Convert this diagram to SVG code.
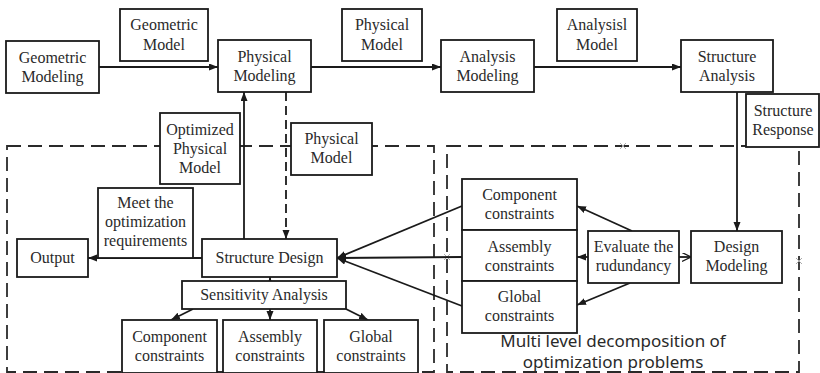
<svg xmlns="http://www.w3.org/2000/svg" width="820" height="373" viewBox="0 0 820 373">
<defs>
<marker id="ah" markerUnits="userSpaceOnUse" markerWidth="10" markerHeight="8" refX="9" refY="3.5" orient="auto"><path d="M0,0 L9,3.5 L0,7 z" fill="#1a1a1a"/></marker>
<marker id="oh" markerUnits="userSpaceOnUse" markerWidth="10" markerHeight="10" refX="9" refY="4.5" orient="auto"><path d="M0,0 L9,4.5 L0,9" fill="none" stroke="#1a1a1a" stroke-width="1.3"/></marker>
<style>
.box{fill:#fff;stroke:#1a1a1a;stroke-width:1.8}
.t{font-family:"Liberation Serif","Times New Roman",serif;font-size:16px;fill:#2a2a2a;text-anchor:middle}
.s{font-family:"Noto Sans","Liberation Sans",sans-serif;font-size:17px;fill:#2a2a2a;text-anchor:middle}
.ln{stroke:#1a1a1a;stroke-width:1.8;fill:none}
.dash{stroke:#2a2a2a;stroke-width:1.8;fill:none;stroke-dasharray:14 7}
.x{stroke:#aaa;stroke-width:1}
</style>
</defs>
<rect width="820" height="373" fill="#fff"/>
<g id="regions">
<rect class="dash" x="7" y="146" width="427" height="226"/>
<rect class="dash" x="447" y="146" width="352" height="226"/>
<path class="x" d="M620,143 l6,6 M626,143 l-6,6 M444,254 l6,6 M450,254 l-6,6 M796,258 l6,6 M802,258 l-6,6"/>
</g>
<g id="connectors">
<line class="ln" x1="99" y1="67" x2="218" y2="67" marker-end="url(#ah)"/>
<line class="ln" x1="311" y1="67" x2="441" y2="67" marker-end="url(#ah)"/>
<line class="ln" x1="534" y1="67" x2="681" y2="67" marker-end="url(#ah)"/>
<line class="ln" x1="737" y1="92" x2="737" y2="231" marker-end="url(#ah)"/>
<line class="ln" x1="244" y1="239" x2="244" y2="92" marker-end="url(#ah)"/>
<line class="ln" x1="286" y1="92" x2="286" y2="239" stroke-dasharray="9 5" marker-end="url(#ah)"/>
<line class="ln" x1="202" y1="258" x2="88" y2="258" marker-end="url(#ah)"/>
<line class="ln" x1="270" y1="281" x2="270" y2="277" marker-end="url(#ah)"/>
<line class="ln" x1="193" y1="309" x2="171" y2="320" marker-end="url(#ah)"/>
<line class="ln" x1="270" y1="309" x2="270" y2="320" marker-end="url(#ah)"/>
<line class="ln" x1="346" y1="309" x2="368" y2="320" marker-end="url(#ah)"/>
<line class="ln" x1="462" y1="206" x2="337" y2="258" marker-end="url(#ah)"/>
<line class="ln" x1="462" y1="257" x2="337" y2="258" marker-end="url(#ah)"/>
<line class="ln" x1="462" y1="306" x2="337" y2="258" marker-end="url(#ah)"/>
<line class="ln" x1="632" y1="231" x2="577" y2="206" marker-end="url(#ah)"/>
<line class="ln" x1="588" y1="257" x2="577" y2="257" marker-end="url(#ah)"/>
<line class="ln" x1="630" y1="283" x2="577" y2="305" marker-end="url(#ah)"/>
<line class="ln" x1="679" y1="257" x2="691" y2="257" marker-end="url(#oh)"/>
</g>
<g id="geometric-modeling"><rect class="box" x="6" y="41" width="93" height="52"/><text class="t" x="52.5" y="63">Geometric</text><text class="t" x="52.5" y="82">Modeling</text></g>
<g id="geometric-model"><rect class="box" x="120" y="9" width="88" height="52"/><text class="t" x="164" y="30">Geometric</text><text class="t" x="164" y="50">Model</text></g>
<g id="physical-modeling"><rect class="box" x="218" y="40" width="93" height="52"/><text class="t" x="264.5" y="62">Physical</text><text class="t" x="264.5" y="81">Modeling</text></g>
<g id="physical-model-top"><rect class="box" x="342" y="9" width="80" height="52"/><text class="t" x="382" y="30">Physical</text><text class="t" x="382" y="50">Model</text></g>
<g id="analysis-modeling"><rect class="box" x="441" y="40" width="93" height="52"/><text class="t" x="487.5" y="62">Analysis</text><text class="t" x="487.5" y="81">Modeling</text></g>
<g id="analysis-model"><rect class="box" x="557" y="9" width="80" height="52"/><text class="t" x="597" y="30">Analysisl</text><text class="t" x="597" y="50">Model</text></g>
<g id="structure-analysis"><rect class="box" x="681" y="40" width="92" height="52"/><text class="t" x="727" y="62">Structure</text><text class="t" x="727" y="81">Analysis</text></g>
<g id="structure-response"><rect class="box" x="746" y="94" width="73" height="53"/><text class="t" x="783" y="116">Structure</text><text class="t" x="783" y="135">Response</text></g>
<g id="optimized-physical-model"><rect class="box" x="160" y="113" width="80" height="71"/><text class="t" x="200" y="135">Optimized</text><text class="t" x="200" y="154">Physical</text><text class="t" x="200" y="173">Model</text></g>
<g id="physical-model-mid"><rect class="box" x="291" y="123" width="81" height="52"/><text class="t" x="331.5" y="144">Physical</text><text class="t" x="331.5" y="163">Model</text></g>
<g id="meet-requirements"><rect class="box" x="98" y="188" width="95" height="70"/><text class="t" x="145.5" y="208">Meet the</text><text class="t" x="145.5" y="227">optimization</text><text class="t" x="145.5" y="246">requirements</text></g>
<g id="output"><rect class="box" x="17" y="239" width="71" height="38"/><text class="t" x="52.5" y="263">Output</text></g>
<g id="structure-design"><rect class="box" x="202" y="239" width="135" height="38"/><text class="t" x="269.5" y="263">Structure Design</text></g>
<g id="sensitivity-analysis"><rect class="box" x="182" y="281" width="164" height="28"/><text class="t" x="264" y="300">Sensitivity Analysis</text></g>
<g id="component-constraints-b"><rect class="box" x="122" y="320" width="95" height="53"/><text class="t" x="169.5" y="342">Component</text><text class="t" x="169.5" y="361">constraints</text></g>
<g id="assembly-constraints-b"><rect class="box" x="223" y="320" width="94" height="53"/><text class="t" x="270" y="342">Assembly</text><text class="t" x="270" y="361">constraints</text></g>
<g id="global-constraints-b"><rect class="box" x="324" y="320" width="94" height="53"/><text class="t" x="371" y="342">Global</text><text class="t" x="371" y="361">constraints</text></g>
<g id="component-constraints-r"><rect class="box" x="462" y="179" width="115" height="51"/><text class="t" x="519.5" y="200">Component</text><text class="t" x="519.5" y="219">constraints</text></g>
<g id="assembly-constraints-r"><rect class="box" x="462" y="230" width="115" height="51"/><text class="t" x="519.5" y="252">Assembly</text><text class="t" x="519.5" y="271">constraints</text></g>
<g id="global-constraints-r"><rect class="box" x="462" y="281" width="115" height="52"/><text class="t" x="519.5" y="302">Global</text><text class="t" x="519.5" y="321">constraints</text></g>
<g id="evaluate-redundancy"><rect class="box" x="588" y="231" width="91" height="52"/><text class="t" x="633.5" y="252">Evaluate the</text><text class="t" x="633.5" y="271">rudundancy</text></g>
<g id="design-modeling"><rect class="box" x="691" y="231" width="91" height="52"/><text class="t" x="736.5" y="252">Design</text><text class="t" x="736.5" y="271">Modeling</text></g>
<g id="caption"><text class="s" x="613" y="347">Multi level decomposition of</text><text class="s" x="613" y="368">optimization problems</text></g>
</svg>
